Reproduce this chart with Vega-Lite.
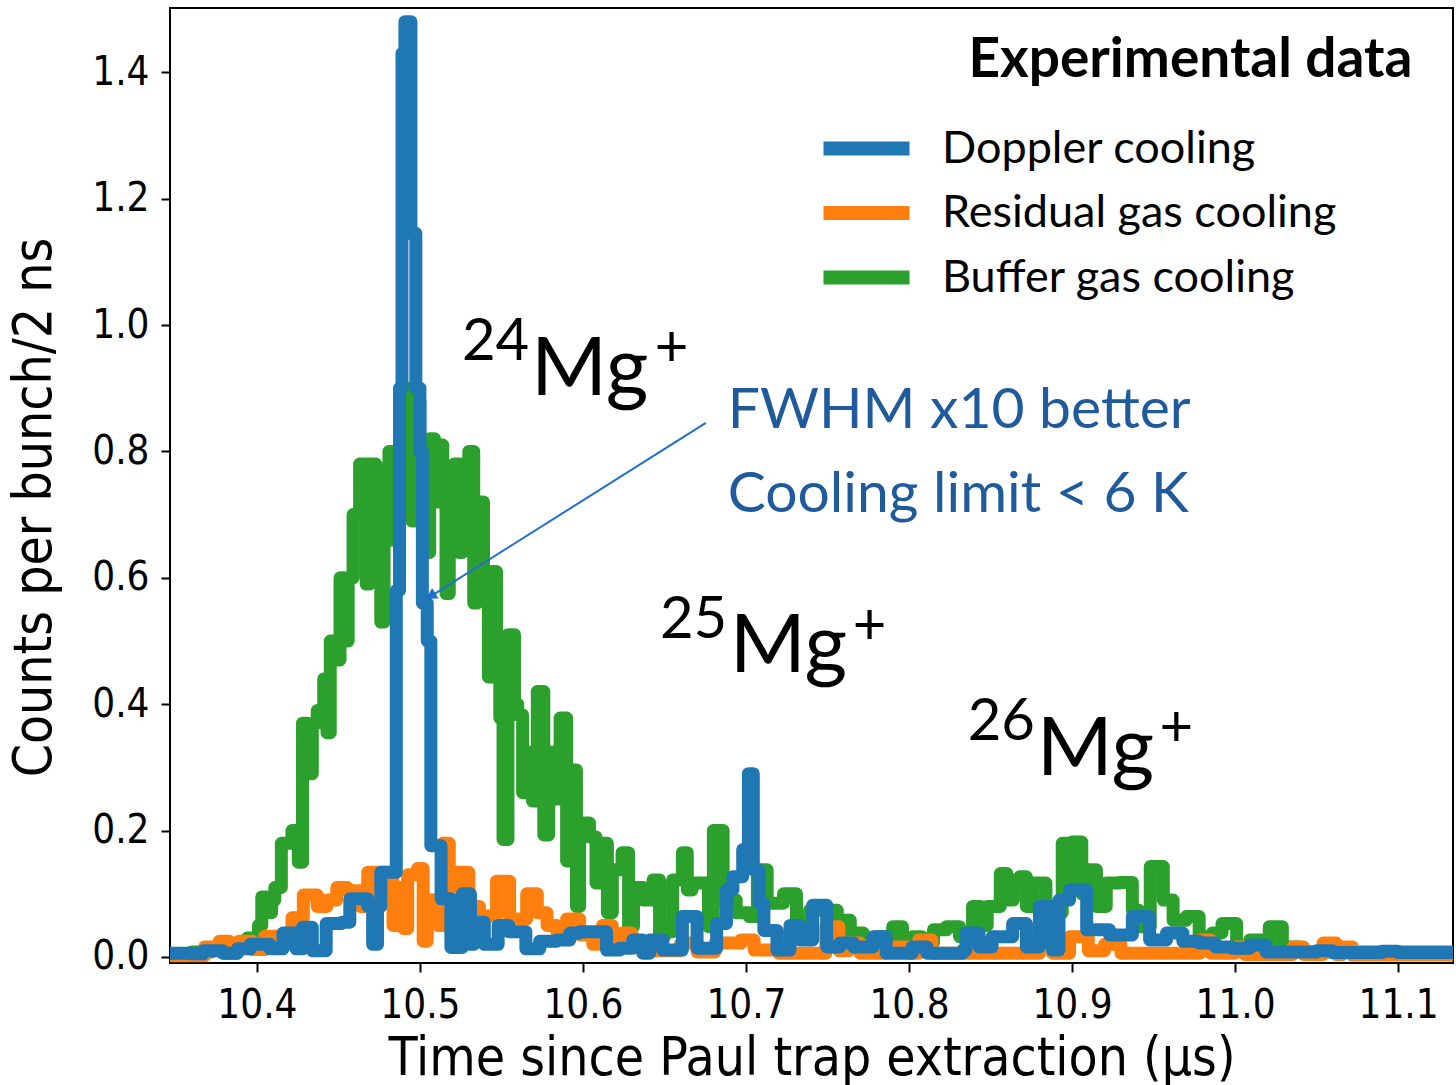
{
"$schema": "https://vega.github.io/schema/vega-lite/v6.json",
"width": 1283, "height": 955,
"autosize": "none",
"padding": {"left": 170, "top": 8, "right": 3, "bottom": 122},
"background": "white",
"datasets": {
"buffer": [
{"t":10.347,"v":0.004},{"t":10.360,"v":0.008},{"t":10.372,"v":0.012},{"t":10.380,"v":0.006},{"t":10.388,"v":0.02},{"t":10.394,"v":0.03},{"t":10.398,"v":0.025},{"t":10.401,"v":0.05},{"t":10.403,"v":0.095},{"t":10.406,"v":0.07},{"t":10.409,"v":0.09},{"t":10.411,"v":0.11},{"t":10.415,"v":0.18},{"t":10.4215,"v":0.2},{"t":10.4254,"v":0.15},{"t":10.428,"v":0.37},{"t":10.431,"v":0.29},{"t":10.434,"v":0.37},{"t":10.437,"v":0.39},{"t":10.441,"v":0.44},{"t":10.443,"v":0.355},{"t":10.445,"v":0.5},{"t":10.448,"v":0.47},{"t":10.451,"v":0.6},{"t":10.454,"v":0.5},{"t":10.456,"v":0.6},{"t":10.459,"v":0.7},{"t":10.463,"v":0.78},{"t":10.467,"v":0.59},{"t":10.469,"v":0.78},{"t":10.473,"v":0.77},{"t":10.476,"v":0.53},{"t":10.478,"v":0.77},{"t":10.481,"v":0.8},{"t":10.483,"v":0.66},{"t":10.486,"v":0.8},{"t":10.489,"v":0.7},{"t":10.492,"v":0.9},{"t":10.495,"v":0.69},{"t":10.497,"v":0.88},{"t":10.500,"v":0.82},{"t":10.502,"v":0.81},{"t":10.504,"v":0.64},{"t":10.506,"v":0.82},{"t":10.509,"v":0.72},{"t":10.511,"v":0.81},{"t":10.514,"v":0.77},{"t":10.516,"v":0.575},{"t":10.518,"v":0.77},{"t":10.521,"v":0.78},{"t":10.524,"v":0.64},{"t":10.526,"v":0.78},{"t":10.530,"v":0.8},{"t":10.533,"v":0.56},{"t":10.535,"v":0.72},{"t":10.539,"v":0.61},{"t":10.542,"v":0.443},{"t":10.544,"v":0.61},{"t":10.547,"v":0.5},{"t":10.549,"v":0.378},{"t":10.551,"v":0.186},{"t":10.554,"v":0.51},{"t":10.558,"v":0.4},{"t":10.560,"v":0.383},{"t":10.563,"v":0.26},{"t":10.566,"v":0.324},{"t":10.569,"v":0.247},{"t":10.572,"v":0.42},{"t":10.576,"v":0.193},{"t":10.579,"v":0.324},{"t":10.582,"v":0.25},{"t":10.586,"v":0.378},{"t":10.590,"v":0.152},{"t":10.592,"v":0.296},{"t":10.596,"v":0.08},{"t":10.598,"v":0.212},{"t":10.604,"v":0.19},{"t":10.608,"v":0.117},{"t":10.612,"v":0.18},{"t":10.615,"v":0.07},{"t":10.618,"v":0.138},{"t":10.624,"v":0.165},{"t":10.628,"v":0.048},{"t":10.631,"v":0.11},{"t":10.637,"v":0.09},{"t":10.643,"v":0.122},{"t":10.647,"v":0.032},{"t":10.650,"v":0.04},{"t":10.655,"v":0.122},{"t":10.661,"v":0.165},{"t":10.664,"v":0.106},{"t":10.667,"v":0.117},{"t":10.674,"v":0.117},{"t":10.677,"v":0.048},{"t":10.680,"v":0.2},{"t":10.686,"v":0.09},{"t":10.694,"v":0.07},{"t":10.702,"v":0.064},{"t":10.707,"v":0.138},{"t":10.713,"v":0.085},{"t":10.723,"v":0.1},{"t":10.731,"v":0.055},{"t":10.739,"v":0.074},{"t":10.756,"v":0.058},{"t":10.764,"v":0.038},{"t":10.772,"v":0.022},{"t":10.780,"v":0.032},{"t":10.790,"v":0.048},{"t":10.796,"v":0.027},{"t":10.802,"v":0.032},{"t":10.808,"v":0.022},{"t":10.815,"v":0.043},{"t":10.823,"v":0.048},{"t":10.831,"v":0.032},{"t":10.839,"v":0.08},{"t":10.844,"v":0.05},{"t":10.848,"v":0.08},{"t":10.856,"v":0.132},{"t":10.860,"v":0.09},{"t":10.864,"v":0.122},{"t":10.868,"v":0.127},{"t":10.872,"v":0.08},{"t":10.876,"v":0.117},{"t":10.884,"v":0.07},{"t":10.894,"v":0.18},{"t":10.897,"v":0.12},{"t":10.900,"v":0.182},{"t":10.906,"v":0.1},{"t":10.909,"v":0.138},{"t":10.915,"v":0.08},{"t":10.921,"v":0.117},{"t":10.929,"v":0.118},{"t":10.937,"v":0.074},{"t":10.941,"v":0.048},{"t":10.948,"v":0.143},{"t":10.956,"v":0.09},{"t":10.962,"v":0.058},{"t":10.970,"v":0.064},{"t":10.978,"v":0.032},{"t":10.986,"v":0.038},{"t":10.992,"v":0.053},{"t":11.001,"v":0.016},{"t":11.009,"v":0.027},{"t":11.017,"v":0.016},{"t":11.021,"v":0.048},{"t":11.029,"v":0.016},{"t":11.040,"v":0.008},{"t":11.134,"v":0.008}
],
"residual": [
{"t":10.347,"v":0.002},{"t":10.368,"v":0.016},{"t":10.377,"v":0.025},{"t":10.383,"v":0.01},{"t":10.389,"v":0.025},{"t":10.397,"v":0.012},{"t":10.405,"v":0.033},{"t":10.4155,"v":0.02},{"t":10.4215,"v":0.062},{"t":10.4285,"v":0.098},{"t":10.437,"v":0.08},{"t":10.443,"v":0.09},{"t":10.449,"v":0.11},{"t":10.4555,"v":0.105},{"t":10.4635,"v":0.08},{"t":10.468,"v":0.134},{"t":10.4715,"v":0.045},{"t":10.4735,"v":0.134},{"t":10.4798,"v":0.12},{"t":10.4835,"v":0.05},{"t":10.486,"v":0.11},{"t":10.490,"v":0.045},{"t":10.4925,"v":0.13},{"t":10.4985,"v":0.14},{"t":10.502,"v":0.025},{"t":10.5045,"v":0.09},{"t":10.511,"v":0.05},{"t":10.514,"v":0.18},{"t":10.518,"v":0.045},{"t":10.5225,"v":0.134},{"t":10.530,"v":0.08},{"t":10.5365,"v":0.065},{"t":10.547,"v":0.12},{"t":10.555,"v":0.06},{"t":10.5655,"v":0.1},{"t":10.572,"v":0.07},{"t":10.578,"v":0.05},{"t":10.584,"v":0.04},{"t":10.590,"v":0.06},{"t":10.598,"v":0.035},{"t":10.606,"v":0.02},{"t":10.612,"v":0.05},{"t":10.618,"v":0.03},{"t":10.624,"v":0.038},{"t":10.630,"v":0.015},{"t":10.645,"v":0.01},{"t":10.660,"v":0.022},{"t":10.670,"v":0.008},{"t":10.681,"v":0.022},{"t":10.697,"v":0.027},{"t":10.705,"v":0.011},{"t":10.720,"v":0.006},{"t":10.749,"v":0.048},{"t":10.757,"v":0.01},{"t":10.763,"v":0.022},{"t":10.770,"v":0.006},{"t":10.785,"v":0.016},{"t":10.800,"v":0.006},{"t":10.806,"v":0.027},{"t":10.814,"v":0.006},{"t":10.880,"v":0.027},{"t":10.888,"v":0.006},{"t":10.8985,"v":0.032},{"t":10.910,"v":0.01},{"t":10.920,"v":0.02},{"t":10.930,"v":0.006},{"t":10.9785,"v":0.027},{"t":10.985,"v":0.006},{"t":11.000,"v":0.016},{"t":11.006,"v":0.004},{"t":11.0355,"v":0.016},{"t":11.042,"v":0.004},{"t":11.054,"v":0.022},{"t":11.062,"v":0.004},{"t":11.066,"v":0.016},{"t":11.072,"v":0.003},{"t":11.134,"v":0.003}
],
"doppler": [
{"t":10.347,"v":0.006},{"t":10.359,"v":0.005},{"t":10.367,"v":0.01},{"t":10.379,"v":0.006},{"t":10.388,"v":0.013},{"t":10.396,"v":0.02},{"t":10.408,"v":0.013},{"t":10.416,"v":0.038},{"t":10.424,"v":0.013},{"t":10.428,"v":0.047},{"t":10.434,"v":0.01},{"t":10.4425,"v":0.053},{"t":10.452,"v":0.055},{"t":10.457,"v":0.092},{"t":10.468,"v":0.08},{"t":10.471,"v":0.02},{"t":10.474,"v":0.08},{"t":10.476,"v":0.134},{"t":10.4855,"v":0.58},{"t":10.4875,"v":0.9},{"t":10.489,"v":1.43},{"t":10.4908,"v":1.48},{"t":10.4945,"v":1.145},{"t":10.4975,"v":0.9},{"t":10.5,"v":0.8},{"t":10.5015,"v":0.56},{"t":10.5045,"v":0.5},{"t":10.5067,"v":0.176},{"t":10.513,"v":0.092},{"t":10.519,"v":0.015},{"t":10.526,"v":0.1},{"t":10.531,"v":0.02},{"t":10.533,"v":0.055},{"t":10.5395,"v":0.02},{"t":10.548,"v":0.05},{"t":10.5545,"v":0.04},{"t":10.565,"v":0.013},{"t":10.5735,"v":0.025},{"t":10.584,"v":0.027},{"t":10.592,"v":0.038},{"t":10.598,"v":0.04},{"t":10.6145,"v":0.011},{"t":10.6225,"v":0.014},{"t":10.6305,"v":0.027},{"t":10.6367,"v":0.006},{"t":10.641,"v":0.027},{"t":10.649,"v":0.011},{"t":10.661,"v":0.064},{"t":10.67,"v":0.014},{"t":10.682,"v":0.053},{"t":10.688,"v":0.106},{"t":10.692,"v":0.127},{"t":10.698,"v":0.17},{"t":10.7015,"v":0.29},{"t":10.7045,"v":0.138},{"t":10.708,"v":0.085},{"t":10.711,"v":0.042},{"t":10.719,"v":0.011},{"t":10.727,"v":0.05},{"t":10.733,"v":0.027},{"t":10.741,"v":0.082},{"t":10.7495,"v":0.016},{"t":10.7575,"v":0.022},{"t":10.766,"v":0.016},{"t":10.778,"v":0.032},{"t":10.786,"v":0.006},{"t":10.802,"v":0.016},{"t":10.811,"v":0.006},{"t":10.833,"v":0.011},{"t":10.835,"v":0.038},{"t":10.843,"v":0.016},{"t":10.851,"v":0.032},{"t":10.8636,"v":0.053},{"t":10.872,"v":0.016},{"t":10.88,"v":0.08},{"t":10.888,"v":0.011},{"t":10.892,"v":0.09},{"t":10.8985,"v":0.106},{"t":10.909,"v":0.043},{"t":10.923,"v":0.035},{"t":10.937,"v":0.064},{"t":10.9476,"v":0.027},{"t":10.958,"v":0.038},{"t":10.968,"v":0.025},{"t":10.978,"v":0.022},{"t":10.988,"v":0.016},{"t":10.998,"v":0.014},{"t":11.009,"v":0.019},{"t":11.019,"v":0.008},{"t":11.05,"v":0.01},{"t":11.06,"v":0.007},{"t":11.09,"v":0.009},{"t":11.10,"v":0.007},{"t":11.134,"v":0.007}
]
},
"layer": [
{"data": {"name": "buffer"},
 "mark": {"type": "line", "interpolate": "step-after", "strokeWidth": 13, "strokeJoin": "round", "strokeCap": "round", "clip": true},
 "encoding": {
  "x": {"field": "t", "type": "quantitative", "scale": {"domain": [10.3467, 11.1337], "nice": false, "zero": false},
        "axis": {"values": [10.4,10.5,10.6,10.7,10.8,10.9,11.0,11.1], "format": ".1f", "title": "Time since Paul trap extraction (μs)", "titleY": 111, "titleBaseline": "alphabetic"}},
  "y": {"field": "v", "type": "quantitative", "scale": {"domain": [-0.0095, 1.5016], "nice": false, "zero": false},
        "axis": {"values": [0,0.2,0.4,0.6,0.8,1.0,1.2,1.4], "format": ".1f", "title": "Counts per bunch/2 ns", "titleX": -120, "titleY": 499, "titleBaseline": "alphabetic", "titleAngle": 270}},
  "color": {"datum": "Buffer gas cooling", "type": "nominal",
            "scale": {"domain": ["Doppler cooling", "Residual gas cooling", "Buffer gas cooling"], "range": ["#1f77b4", "#ff7f0e", "#2ca02c"]},
            "legend": {"title": null}}
 }},
{"data": {"name": "residual"},
 "mark": {"type": "line", "interpolate": "step-after", "strokeWidth": 13, "strokeJoin": "round", "strokeCap": "round", "clip": true},
 "encoding": {
  "x": {"field": "t", "type": "quantitative"},
  "y": {"field": "v", "type": "quantitative"},
  "color": {"datum": "Residual gas cooling", "type": "nominal"}
 }},
{"data": {"name": "doppler"},
 "mark": {"type": "line", "interpolate": "step-after", "strokeWidth": 13, "strokeJoin": "round", "strokeCap": "round", "clip": true},
 "encoding": {
  "x": {"field": "t", "type": "quantitative"},
  "y": {"field": "v", "type": "quantitative"},
  "color": {"datum": "Doppler cooling", "type": "nominal"}
 }},
{"data": {"values": [{}]},
 "mark": {"type": "rule", "color": "#1f6fcf", "strokeWidth": 2},
 "encoding": {"x": {"datum": 10.6754}, "y": {"datum": 0.845}, "x2": {"datum": 10.5031}, "y2": {"datum": 0.565}}},
{"data": {"values": [{}]},
 "mark": {"type": "point", "shape": "triangle-up", "filled": true, "color": "#1f6fcf", "size": 150, "angle": 238, "opacity": 1},
 "encoding": {"x": {"datum": 10.5067}, "y": {"datum": 0.5712}}},
{"data": {"values": [{}]},
 "mark": {"type": "text", "text": "Experimental data", "font": "Lato", "fontSize": 55, "fontWeight": "bold", "align": "right", "baseline": "alphabetic", "color": "black"},
 "encoding": {"x": {"datum": 11.1088}, "y": {"datum": 1.392}}},
{"data": {"values": [{}]},
 "mark": {"type": "text", "text": "FWHM x10 better", "font": "Lato", "fontSize": 57, "align": "left", "baseline": "alphabetic", "color": "#1e5a9c"},
 "encoding": {"x": {"datum": 10.6888}, "y": {"datum": 0.837}}},
{"data": {"values": [{}]},
 "mark": {"type": "text", "text": "Cooling limit < 6 K", "font": "Lato", "fontSize": 57, "align": "left", "baseline": "alphabetic", "color": "#1e5a9c"},
 "encoding": {"x": {"datum": 10.6888}, "y": {"datum": 0.704}}},
{"data": {"values": [{}]},
 "mark": {"type": "text", "text": "24", "font": "Lato", "fontSize": 58, "align": "left", "baseline": "alphabetic", "color": "black"},
 "encoding": {"x": {"datum": 10.5258}, "y": {"datum": 0.9446}}},
{"data": {"values": [{}]},
 "mark": {"type": "text", "text": "Mg", "font": "Lato", "fontSize": 82, "align": "left", "baseline": "alphabetic", "color": "black"},
 "encoding": {"x": {"datum": 10.5681}, "y": {"datum": 0.8892}}},
{"data": {"values": [{}]},
 "mark": {"type": "text", "text": "+", "font": "Lato", "fontSize": 58, "align": "left", "baseline": "alphabetic", "color": "black"},
 "encoding": {"x": {"datum": 10.6441}, "y": {"datum": 0.9351}}},
{"data": {"values": [{}]},
 "mark": {"type": "text", "text": "25", "font": "Lato", "fontSize": 58, "align": "left", "baseline": "alphabetic", "color": "black"},
 "encoding": {"x": {"datum": 10.6472}, "y": {"datum": 0.5047}}},
{"data": {"values": [{}]},
 "mark": {"type": "text", "text": "Mg", "font": "Lato", "fontSize": 82, "align": "left", "baseline": "alphabetic", "color": "black"},
 "encoding": {"x": {"datum": 10.6901}, "y": {"datum": 0.4509}}},
{"data": {"values": [{}]},
 "mark": {"type": "text", "text": "+", "font": "Lato", "fontSize": 58, "align": "left", "baseline": "alphabetic", "color": "black"},
 "encoding": {"x": {"datum": 10.7655}, "y": {"datum": 0.4953}}},
{"data": {"values": [{}]},
 "mark": {"type": "text", "text": "26", "font": "Lato", "fontSize": 58, "align": "left", "baseline": "alphabetic", "color": "black"},
 "encoding": {"x": {"datum": 10.836}, "y": {"datum": 0.3434}}},
{"data": {"values": [{}]},
 "mark": {"type": "text", "text": "Mg", "font": "Lato", "fontSize": 82, "align": "left", "baseline": "alphabetic", "color": "black"},
 "encoding": {"x": {"datum": 10.8783}, "y": {"datum": 0.288}}},
{"data": {"values": [{}]},
 "mark": {"type": "text", "text": "+", "font": "Lato", "fontSize": 58, "align": "left", "baseline": "alphabetic", "color": "black"},
 "encoding": {"x": {"datum": 10.9537}, "y": {"datum": 0.3339}}}
],
"config": {
 "view": {"stroke": "black", "strokeWidth": 2},
 "axis": {"grid": false, "domain": false, "labelFont": "DejaVu Sans Condensed, DejaVu Sans", "labelFontSize": 40, "labelColor": "black", "tickColor": "black", "tickWidth": 2, "tickSize": 9,
          "titleFont": "DejaVu Sans Condensed, Liberation Sans Narrow, DejaVu Sans", "titleFontSize": 53, "titleFontWeight": "normal", "titleColor": "black"},
 "axisX": {"labelPadding": 13},
 "axisY": {"labelPadding": 12},
 "legend": {"orient": "none", "legendX": 674, "legendY": 118, "padding": 0, "symbolType": "M-3,0H3", "symbolSize": 822, "symbolStrokeWidth": 14,
            "labelFont": "Lato", "labelFontSize": 45, "labelColor": "black", "labelLimit": 800, "labelOffset": 53, "rowPadding": 7.5}
}
}
